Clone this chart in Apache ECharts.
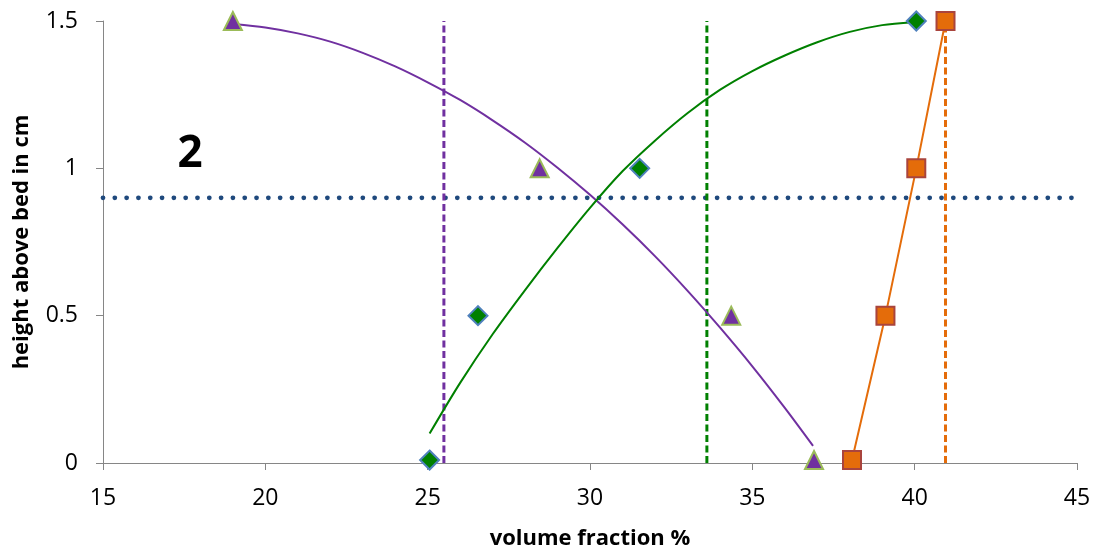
<!DOCTYPE html>
<html>
<head>
<meta charset="utf-8">
<script src="https://cdn.jsdelivr.net/npm/echarts@6/dist/echarts.min.js"></script>
<style>
html,body{margin:0;padding:0;background:#fff;}
#chart{width:1098px;height:550px;}
</style>
</head>
<body>
<div id="chart"></div>
<script>
// ---- data ----
const xTicks = [15, 20, 25, 30, 35, 40, 45];
const yTicks = [0, 0.5, 1, 1.5];

const triX = [19.0, 28.45, 34.35, 36.9];
const triY = [1.5, 1.0, 0.5, 0.01];

const diaX = [25.06, 26.55, 31.53, 40.05];
const diaY = [0.01, 0.5, 1.0, 1.5];

const sqX = [38.07, 39.1, 40.05, 40.95];
const sqY = [0.01, 0.5, 1.0, 1.5];

// trend curves
const purpleCurveX = [19.02, 20, 21, 22, 23, 24, 25, 26, 27, 28, 29, 30, 31, 32, 33, 34, 35, 36, 36.87];
const purpleCurveY = [1.49, 1.478, 1.458, 1.43, 1.392, 1.346, 1.292, 1.232, 1.163, 1.087, 1.002, 0.91, 0.81, 0.702, 0.585, 0.46, 0.328, 0.187, 0.058];
const greenCurveX = [25.06, 26, 27, 28, 29, 30, 31, 32, 33, 34, 35, 36, 37, 38, 39, 39.96];
const greenCurveY = [0.1, 0.272, 0.437, 0.587, 0.73, 0.866, 0.99, 1.094, 1.187, 1.266, 1.33, 1.383, 1.428, 1.463, 1.486, 1.496];

// reference lines
const vPurpleX = 25.5, vGreenX = 33.6, vOrangeX = 40.95;
const vLineTop = 1.5;
const hLineY = 0.9, hLineX0 = 15, hLineX1 = 44.84;

const annotation = '2';
const xTitle = 'volume fraction %';
const yTitle = 'height above bed in cm';

const zip = (a, b) => a.map((v, i) => [v, b[i]]);

const chart = echarts.init(document.getElementById('chart'), null, {renderer: 'canvas'});
const FONT = 'Open Sans';
const option = {
  animation: false,
  backgroundColor: '#ffffff',
  grid: {left: 103, right: 21, top: 21, bottom: 87, outerBoundsMode: 'none'},
  xAxis: {
    type: 'value', min: xTicks[0], max: xTicks[xTicks.length - 1], interval: 5,
    splitLine: {show: false},
    axisLine: {show: true, onZero: false, lineStyle: {color: '#868686', width: 1}},
    axisTick: {show: true, length: 7, lineStyle: {color: '#868686'}},
    axisLabel: {color: '#000', fontFamily: FONT, fontSize: 23, margin: 24},
    name: xTitle, nameLocation: 'middle', nameGap: 65,
    nameTextStyle: {color: '#000', fontFamily: FONT, fontSize: 22, fontWeight: 'bold'}
  },
  yAxis: {
    type: 'value', min: yTicks[0], max: yTicks[yTicks.length - 1], interval: 0.5,
    splitLine: {show: false},
    axisLine: {show: true, onZero: false, lineStyle: {color: '#868686', width: 1}},
    axisTick: {show: true, length: 7, lineStyle: {color: '#868686'}},
    axisLabel: {color: '#000', fontFamily: FONT, fontSize: 23, margin: 25},
    name: yTitle, nameLocation: 'middle', nameGap: 70,
    nameTextStyle: {color: '#000', fontFamily: FONT, fontSize: 22, fontWeight: 'bold'}
  },
  graphic: [{
    type: 'text', x: 190, y: 154,
    style: {text: annotation, fontFamily: FONT, fontSize: 44, fontWeight: 'bold', fill: '#000',
            align: 'center', verticalAlign: 'middle'}
  }],
  series: [
    {type: 'line', data: [[hLineX0, hLineY], [hLineX1, hLineY]], showSymbol: false, silent: true, z: 1,
     lineStyle: {color: '#1F497D', width: 4.8, type: [0.01, 11.8], cap: 'round'}},
    {type: 'line', data: [[vPurpleX, 0], [vPurpleX, vLineTop]], showSymbol: false, silent: true, z: 2,
     lineStyle: {color: '#7030A0', width: 3, type: [7, 3.5]}},
    {type: 'line', data: [[vGreenX, 0], [vGreenX, vLineTop]], showSymbol: false, silent: true, z: 2,
     lineStyle: {color: '#008000', width: 3, type: [7, 3.5]}},
    {type: 'line', data: [[vOrangeX, 0], [vOrangeX, vLineTop]], showSymbol: false, silent: true, z: 2,
     lineStyle: {color: '#E46C0A', width: 3, type: [7, 3.5]}},
    {type: 'line', data: zip(purpleCurveX, purpleCurveY), showSymbol: false, smooth: 0.3, z: 3,
     lineStyle: {color: '#7030A0', width: 2}},
    {type: 'line', data: zip(greenCurveX, greenCurveY), showSymbol: false, smooth: 0.3, z: 3,
     lineStyle: {color: '#008000', width: 2}},
    {type: 'line', data: zip(sqX, sqY), symbol: 'rect', symbolSize: 18, z: 4,
     lineStyle: {color: '#E46C0A', width: 2},
     itemStyle: {color: '#E46C0A', borderColor: '#A9443D', borderWidth: 2}},
    {type: 'scatter', data: zip(triX, triY), symbol: 'triangle', symbolSize: 18, z: 5,
     itemStyle: {color: '#7030A0', borderColor: '#9BBB59', borderWidth: 2, opacity: 1}},
    {type: 'scatter', data: zip(diaX, diaY), symbol: 'diamond', symbolSize: 19, z: 5,
     itemStyle: {color: '#008000', borderColor: '#4F81BD', borderWidth: 2, opacity: 1}}
  ]
};
chart.setOption(option);
</script>
</body>
</html>
